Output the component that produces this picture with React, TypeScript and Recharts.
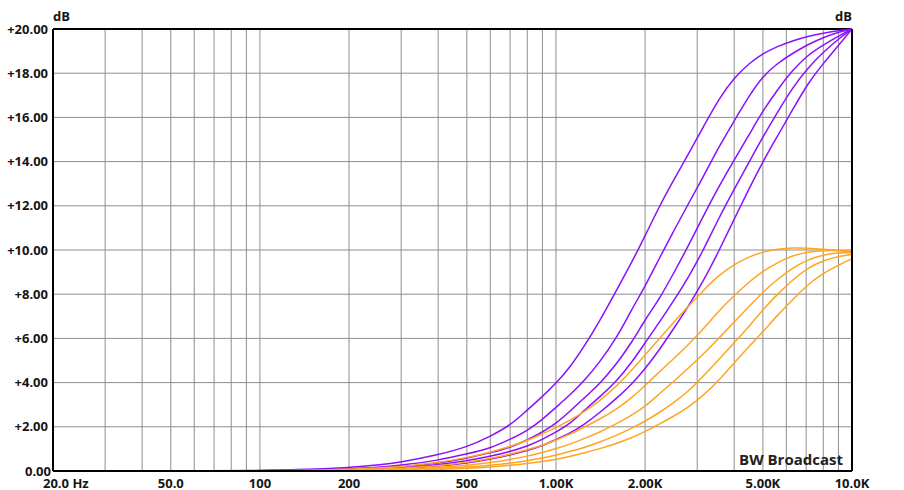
import React from 'react';
import { LineChart, Line, XAxis, YAxis, CartesianGrid, ReferenceLine } from 'recharts';

const FREQS = [20, 50, 100, 150, 200, 250, 300, 400, 500, 600, 700, 800, 900, 1000, 1120, 1250, 1400, 1600, 1800, 2000, 2240, 2500, 2800, 3150, 3550, 4000, 4500, 5000, 5600, 6300, 7100, 8000, 9000, 10000];

const PURPLE_1 = [0, 0, 0.02, 0.07, 0.16, 0.27, 0.4, 0.73, 1.08, 1.57, 2.06, 2.76, 3.37, 3.96, 4.72, 5.67, 6.75, 8.17, 9.42, 10.64, 12.0, 13.17, 14.33, 15.58, 16.85, 17.8, 18.45, 18.89, 19.21, 19.47, 19.67, 19.82, 19.92, 20];
const PURPLE_2 = [0, 0, 0.01, 0.04, 0.09, 0.16, 0.26, 0.48, 0.77, 1.03, 1.43, 1.82, 2.33, 2.88, 3.46, 4.1, 4.9, 6.0, 7.3, 8.35, 9.65, 10.87, 12.09, 13.33, 14.67, 15.84, 17.0, 17.87, 18.45, 18.9, 19.3, 19.62, 19.86, 20];
const PURPLE_3 = [0, 0, 0.01, 0.025, 0.06, 0.12, 0.18, 0.35, 0.58, 0.82, 1.06, 1.4, 1.76, 2.15, 2.72, 3.33, 3.92, 4.83, 5.8, 6.85, 7.8, 8.96, 10.18, 11.55, 12.88, 14.08, 15.23, 16.3, 17.25, 18.14, 18.83, 19.28, 19.68, 20];
const PURPLE_4 = [0, 0, 0, 0.015, 0.045, 0.08, 0.14, 0.28, 0.46, 0.66, 0.88, 1.12, 1.43, 1.76, 2.15, 2.76, 3.33, 4.05, 4.9, 5.8, 6.75, 7.7, 8.75, 10.0, 11.45, 12.75, 14.0, 15.12, 16.23, 17.35, 18.25, 18.95, 19.55, 20];
const PURPLE_5 = [0, 0, 0, 0.01, 0.03, 0.06, 0.11, 0.22, 0.36, 0.53, 0.73, 0.92, 1.14, 1.43, 1.72, 2.12, 2.62, 3.28, 3.92, 4.62, 5.5, 6.45, 7.45, 8.6, 9.95, 11.4, 12.8, 14.0, 15.15, 16.35, 17.55, 18.45, 19.25, 20];

const ORANGE_1 = [0, 0, 0, 0.03, 0.08, 0.14, 0.2, 0.38, 0.6, 0.85, 1.1, 1.38, 1.67, 1.97, 2.3, 2.7, 3.15, 3.83, 4.55, 5.25, 6.0, 6.74, 7.45, 8.18, 8.86, 9.35, 9.7, 9.92, 10.04, 10.1, 10.08, 10.03, 9.98, 9.92];
const ORANGE_2 = [0, 0, 0, 0.01, 0.05, 0.08, 0.13, 0.23, 0.39, 0.56, 0.76, 0.96, 1.16, 1.4, 1.67, 2.0, 2.33, 2.8, 3.3, 3.87, 4.5, 5.09, 5.7, 6.43, 7.24, 7.95, 8.56, 9.05, 9.43, 9.75, 9.92, 9.98, 9.98, 9.93];
const ORANGE_3 = [0, 0, 0, 0, 0.02, 0.05, 0.08, 0.16, 0.26, 0.38, 0.52, 0.67, 0.84, 1.01, 1.22, 1.47, 1.75, 2.13, 2.51, 2.92, 3.5, 4.05, 4.65, 5.3, 6.0, 6.75, 7.45, 8.1, 8.67, 9.2, 9.57, 9.78, 9.88, 9.88];
const ORANGE_4 = [0, 0, 0, 0, 0.01, 0.02, 0.05, 0.1, 0.18, 0.26, 0.35, 0.46, 0.58, 0.72, 0.89, 1.07, 1.3, 1.61, 1.93, 2.25, 2.65, 3.1, 3.6, 4.3, 5.05, 5.8, 6.55, 7.3, 8.0, 8.65, 9.2, 9.52, 9.72, 9.8];
const ORANGE_5 = [0, 0, 0, 0, 0, 0.01, 0.02, 0.07, 0.12, 0.18, 0.26, 0.34, 0.43, 0.53, 0.66, 0.83, 1.0, 1.24, 1.5, 1.78, 2.13, 2.48, 2.88, 3.42, 4.1, 4.9, 5.65, 6.3, 7.05, 7.75, 8.45, 8.95, 9.32, 9.6];

const X_GRID = [20, 30, 40, 50, 60, 70, 80, 90, 100, 200, 300, 400, 500, 600, 700, 800, 900, 1000, 2000, 3000, 4000, 5000, 6000, 7000, 8000, 9000, 10000];
const X_LABELS: Record<number, string> = {
  20: '20.0 Hz', 50: '50.0', 100: '100', 200: '200', 500: '500',
  1000: '1.00K', 2000: '2.00K', 5000: '5.00K', 10000: '10.0K',
};
const Y_TICKS = [0, 2, 4, 6, 8, 10, 12, 14, 16, 18, 20];

const SERIES = [
  { key: 'p1', values: PURPLE_1, color: '#8a10ff' },
  { key: 'p2', values: PURPLE_2, color: '#8a10ff' },
  { key: 'p3', values: PURPLE_3, color: '#8a10ff' },
  { key: 'p4', values: PURPLE_4, color: '#8a10ff' },
  { key: 'p5', values: PURPLE_5, color: '#8a10ff' },
  { key: 'o1', values: ORANGE_1, color: '#ffa51f' },
  { key: 'o2', values: ORANGE_2, color: '#ffa51f' },
  { key: 'o3', values: ORANGE_3, color: '#ffa51f' },
  { key: 'o4', values: ORANGE_4, color: '#ffa51f' },
  { key: 'o5', values: ORANGE_5, color: '#ffa51f' },
];

const DATA = FREQS.map((f, i) => {
  const row: Record<string, number> = { f };
  SERIES.forEach((s) => { row[s.key] = s.values[i]; });
  return row;
});

const FONT = '"Open Sans", "DejaVu Sans", sans-serif';
const TXT = '#151515';

const yLabel = (v: number) => (v === 0 ? '0.00' : '+' + v.toFixed(2));

const XTick = (props: any) => {
  const { x, y, payload } = props;
  const label = X_LABELS[payload.value];
  if (!label) return <g />;
  const isFirst = payload.value === 20;
  return (
    <text x={isFirst ? x - 10 : x} y={y} dy={17} textAnchor={isFirst ? 'start' : 'middle'}
      fontFamily={FONT} fontWeight={700} fontSize={13} fill={TXT}>
      {label}
    </text>
  );
};

const LeftTick = (props: any) => {
  const { x, y, payload } = props;
  const v = payload.value;
  return (
    <text x={v === 0 ? x + 3 : x} y={y} dy={4.5} textAnchor="end"
      fontFamily={FONT} fontWeight={700} fontSize={13} fill={TXT}>
      {yLabel(v)}
    </text>
  );
};

const RightTick = (props: any) => {
  const { x, y, payload } = props;
  return (
    <text x={x + 42} y={y} dy={4.5} textAnchor="end"
      fontFamily={FONT} fontWeight={700} fontSize={13} fill={TXT}>
      {yLabel(payload.value)}
    </text>
  );
};

export default function App() {
  return (
    <div style={{ position: 'absolute', left: 0, top: 0, width: 904, height: 490, background: '#fff' }}>
      <LineChart width={904} height={490} data={DATA}
        margin={{ top: 29, right: 0, bottom: 0, left: 0 }}>
        <CartesianGrid yAxisId="left" stroke="#8e8e8e" strokeWidth={1} />
        <XAxis dataKey="f" type="number" scale="log" domain={[20, 10000]} allowDataOverflow
          ticks={X_GRID} interval={0} height={19} tickSize={0} tickMargin={0}
          axisLine={{ stroke: '#000', strokeWidth: 2 }} tickLine={false} tick={<XTick />} />
        <YAxis yAxisId="left" type="number" domain={[0, 20]} ticks={Y_TICKS} interval={0}
          width={53} tickSize={0} tickMargin={5}
          axisLine={{ stroke: '#000', strokeWidth: 2 }} tickLine={false} tick={<LeftTick />} />
        <YAxis yAxisId="right" orientation="right" type="number" domain={[0, 20]} ticks={Y_TICKS} interval={0}
          width={52} tickSize={0} tickMargin={5}
          axisLine={{ stroke: '#000', strokeWidth: 2 }} tickLine={false} tick={<RightTick />} />
        <ReferenceLine yAxisId="left" y={20} stroke="#000" strokeWidth={2} />
        {SERIES.map((s) => (
          <Line key={s.key} yAxisId="left" type="basis" dataKey={s.key} stroke={s.color}
            strokeWidth={1.5} dot={false} activeDot={false} isAnimationActive={false} />
        ))}
      </LineChart>
      <svg width={904} height={490} style={{ position: 'absolute', left: 0, top: 0, pointerEvents: 'none' }}>
        <text x={53} y={21} fontFamily={FONT} fontWeight={700} fontSize={13} fill={TXT}>dB</text>
        <text x={852} y={21} textAnchor="end" fontFamily={FONT} fontWeight={700} fontSize={13} fill={TXT}>dB</text>
        <text x={843} y={465} textAnchor="end" fontFamily={FONT} fontWeight={700} fontSize={15} fill="#222">BW Broadcast</text>
      </svg>
    </div>
  );
}
